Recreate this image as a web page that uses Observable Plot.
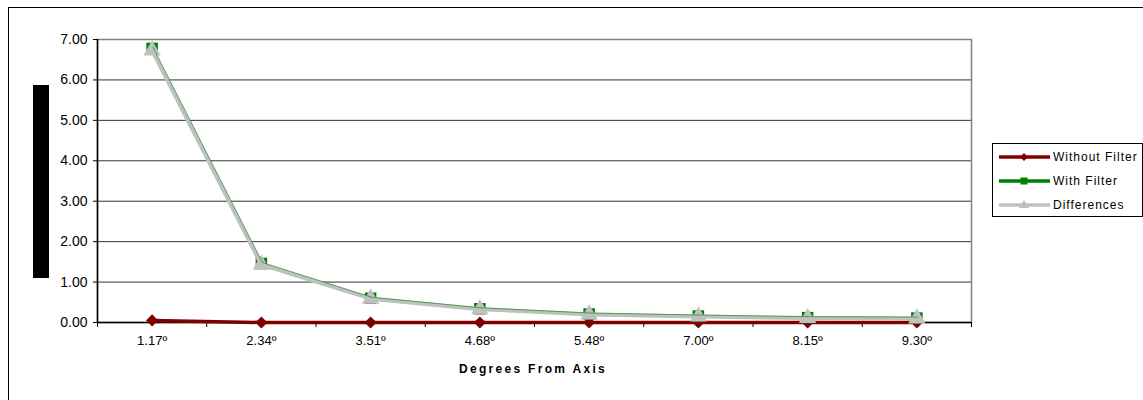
<!DOCTYPE html>
<html><head><meta charset="utf-8">
<script src="https://cdn.jsdelivr.net/npm/d3@7"></script>
<script src="https://cdn.jsdelivr.net/npm/@observablehq/plot@0.6"></script>
<style>
body{margin:0;background:#fff;font-family:"Liberation Sans",Arial,sans-serif;}
#wrap{position:relative;width:1143px;height:400px;overflow:hidden;background:#fff;}
#chart{position:absolute;left:0;top:0;}
#frame{position:absolute;left:8px;top:7px;width:1150px;height:420px;border:1px solid #000;box-sizing:border-box;pointer-events:none;}
#ybar{position:absolute;left:33px;top:85px;width:16px;height:193px;background:#000;}
#xtitle{position:absolute;left:333px;width:400px;top:362px;text-align:center;font-weight:bold;font-size:12px;letter-spacing:2.3px;color:#000;}
#legend{position:absolute;left:992px;top:143px;width:151px;height:74px;border:1px solid #000;box-sizing:border-box;background:#fff;}
.lrow{position:absolute;left:5px;height:20px;display:flex;align-items:center;font-size:12px;letter-spacing:1px;color:#000;}
.lrow svg{margin-right:1px;}
</style></head><body>
<div id="wrap"><div id="chart"></div><div id="ybar"></div><div id="xtitle">Degrees From Axis</div><div id="legend"></div><div id="frame"></div></div>
<script>
const categories = ["1.17","2.34","3.51","4.68","5.48","7.00","8.15","9.30"];
const withoutFilter = [0.05, 0.00, 0.00, 0.00, 0.00, 0.00, 0.00, 0.00];
const withFilter = [6.78, 1.46, 0.60, 0.34, 0.21, 0.16, 0.12, 0.11];
const differences = [6.73, 1.43, 0.59, 0.33, 0.20, 0.15, 0.11, 0.10];
const yTicks = [0, 1, 2, 3, 4, 5, 6, 7];
const seriesNames = ["Without Filter", "With Filter", "Differences"];
const seriesColors = ["#800000", "#008000", "#c0c0c0"];

const rows = categories.map((c, i) => ({i, c, without: withoutFilter[i], with: withFilter[i], diff: differences[i]}));
const boundaries = d3.range(categories.length + 1).map(k => k - 0.5);

const chart = Plot.plot({
  width: 1143,
  height: 400,
  marginLeft: 97,
  marginRight: 172,
  marginTop: 39,
  marginBottom: 78,
  style: {fontFamily: "'Liberation Sans', Arial, sans-serif", background: "transparent", color: "#000"},
  x: {type: "linear", domain: [-0.5, categories.length - 0.5]},
  y: {domain: [0, 7]},
  marks: [
    Plot.ruleY(yTicks.filter(d => d > 0 && d < 7), {stroke: "#333", strokeWidth: 1}),
    Plot.frame({stroke: "#808080", strokeWidth: 1.5}),
    Plot.axisY({ticks: yTicks, tickFormat: d => d.toFixed(2), tickSize: 4, tickPadding: 6, fontSize: 14, label: null, stroke: "#000"}),
    Plot.axisX({ticks: d3.range(categories.length), tickFormat: i => categories[i] + "º", tickSize: 0, tickPadding: 13, fontSize: 13, label: null}),
    Plot.axisX({ticks: boundaries, tickFormat: () => "", tickSize: 5, label: null, stroke: "#000"}),
    Plot.ruleX([-0.5], {stroke: "#000", strokeWidth: 1.5}),
    Plot.ruleY([0], {stroke: "#000", strokeWidth: 1.5}),
    Plot.line(rows, {x: "i", y: "without", stroke: seriesColors[0], strokeWidth: 3.5}),
    Plot.dot(rows, {x: "i", y: "without", symbol: "diamond2", r: 5.5, fill: seriesColors[0], stroke: "none"}),
    Plot.line(rows, {x: "i", y: "with", stroke: seriesColors[1], strokeWidth: 1.5}),
    Plot.dot(rows, {x: "i", y: "with", symbol: "square", r: 6.5, fill: seriesColors[1], stroke: "none"}),
    Plot.line(rows, {x: "i", y: "diff", stroke: seriesColors[2], strokeWidth: 4}),
    Plot.dot(rows, {x: "i", y: "diff", symbol: "triangle", r: 6.5, fill: seriesColors[2], stroke: "none"}),
    Plot.line(rows, {x: "i", y: "with", stroke: seriesColors[1], strokeWidth: 1, strokeOpacity: 0.6, dx: 1, dy: -1})
  ]
});
document.getElementById("chart").appendChild(chart);

const legend = document.getElementById("legend");
const shapes = [
  '<path d="M26,6 L30,10 L26,14 L22,10 Z" fill="COL"/>',
  '<rect x="22.5" y="6.5" width="7" height="7" fill="COL"/>',
  '<path d="M26,5 L31,13 L21,13 Z" fill="COL"/>'
];
seriesNames.forEach((name, k) => {
  const row = document.createElement("div");
  row.className = "lrow";
  row.style.top = (3 + k * 24) + "px";
  row.innerHTML = `<svg width="54" height="20"><line x1="1" x2="52" y1="10" y2="10" stroke="${seriesColors[k]}" stroke-width="3.5"/>${shapes[k].replace("COL", seriesColors[k])}</svg><span>${name}</span>`;
  legend.appendChild(row);
});
</script>
</body></html>
